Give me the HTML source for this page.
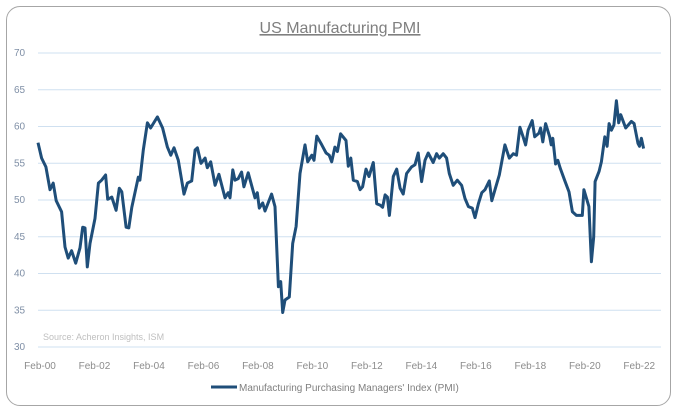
<!DOCTYPE html>
<html><head><meta charset="utf-8"><style>
html,body{margin:0;padding:0;background:#fff;width:679px;height:414px;overflow:hidden;font-family:"Liberation Sans",sans-serif}
#frame{position:absolute;left:6px;top:6px;width:665px;height:400px;border:1px solid #a6a6a6;border-radius:14px;box-sizing:border-box}
</style></head><body>
<div id="frame"></div>
<svg id="chart" width="679" height="414" style="position:absolute;left:0;top:0">
<text x="340" y="33" text-anchor="middle" font-size="16" fill="#7f7f7f" text-decoration="underline">US Manufacturing PMI</text>
<g id="grid"></g><g id="yt"></g><g id="xt"></g>
<text x="43" y="340" font-size="9" fill="#bfbfbf">Source: Acheron Insights, ISM</text>
<g>
<line x1="211" y1="387" x2="237" y2="387" stroke="#1f4e79" stroke-width="3"/>
<text x="239" y="391" font-size="10" fill="#7f7f7f">Manufacturing Purchasing Managers' Index (PMI)</text>
</g>
<path id="line" fill="none" stroke="#1f4e79" stroke-width="3" stroke-linejoin="round"/>
</svg>
<script>
const months=[0,1.6,3.5,5.3,6.7,8,10.4,11.9,13.3,14.8,16.6,18.5,19.7,20.7,21.7,22.9,25.1,26.6,28,29.8,30.7,32.5,34.4,35.8,36.9,38.8,40,41.3,44.2,44.9,46.4,48.2,49.6,52.6,54.9,57,58.5,59.9,61.8,64.3,65.8,67.7,69.2,70.2,71.8,73.6,74.6,76.1,78,79.7,82.4,83.8,84.6,85.8,86.8,88.2,89.7,90.7,92.6,95.6,96.6,97.5,99,100,102.9,104.4,105.9,106.9,107.8,108.8,110.7,112.2,113.7,115.4,117.6,118.8,120.6,121.6,122.8,125,126.9,128.3,129.4,130.8,131.9,133.3,135.7,136.7,137.8,138.9,140.7,141.9,143,144.5,145.8,147.7,149.2,150.7,151.8,152.9,153.9,154.8,156.5,158,159.5,160.9,162.4,164.6,166.1,167.5,169,170.5,171.9,174.1,175.6,176.8,178.5,180,181.2,182.9,184.7,186.6,188.1,189.6,191.3,192.5,194,195.5,196.9,198.8,199.9,201.3,203.2,205.7,207.6,209.4,210.8,212.3,213.7,214.8,215.9,217.7,218.8,220.7,221.4,222.4,223.6,225.4,226.1,226.8,228,229,230.1,232,233.9,235.4,237.2,239.8,240.5,242.7,243.8,244.8,245.4,247.2,248.2,249.7,250.7,251.6,252.6,253.7,254.8,255.8,256.7,258.9,261.4,262.6,264.3,265,265.8,266.8];
const pmi=[57.8,55.7,54.5,51.4,52.3,49.9,48.4,43.6,42.1,43.1,41.4,43.5,46.3,46.2,40.9,44.1,47.5,52.3,52.7,53.4,50.1,50.4,48.6,51.6,51.1,46.3,46.2,49,53.1,52.7,56.8,60.5,59.8,61.3,59.8,57.2,56.1,57.1,55.4,50.8,52.3,52.6,56.8,57.1,55,55.7,54.4,55.2,52,53.5,50.3,51,50.3,54.1,52.7,52.9,53.8,51.8,53.7,50.3,51,48.9,49.6,48.5,50.8,49.1,38.2,38.9,34.7,36.4,36.8,44.1,46.4,53.6,57.5,55.2,56.1,55.4,58.7,57.5,56.4,56.1,55.2,57.2,56.6,59,58.1,54.6,55.7,52.7,52.5,51.4,51.8,54.2,53.2,55.1,49.5,49.3,49,50.7,50.4,47.9,53.2,54.2,51.6,50.8,53.6,54.5,54.8,56.4,52.5,55.4,56.4,55.1,56.3,55.7,56.3,55.7,53.6,52,52.7,52,50.2,49.1,48.9,47.6,49.5,51,51.4,52.6,49.9,51.4,53.4,57.5,55.7,56.3,56.1,59.9,58.6,57.5,59.5,60.8,58.6,59.1,59.8,57.9,60.4,58.6,57.5,58.4,54.9,55.4,54.3,52.7,51.1,48.4,47.9,47.9,51.4,49.1,41.6,45,52.5,53.9,55.2,58.6,57.3,60.4,59.5,60.2,63.5,60.5,61.6,59.8,60.7,60.4,57.7,57.3,58.4,57];
const yTicks=[30,35,40,45,50,55,60,65,70];
const xLabels=["Feb-00","Feb-02","Feb-04","Feb-06","Feb-08","Feb-10","Feb-12","Feb-14","Feb-16","Feb-18","Feb-20","Feb-22"];
const X0=38,PXM=2.27,Y70=53,PXU=7.35;
function xs(m){return X0+m*PXM;}
function ys(v){return Y70+(70-v)*PXU;}
const NS="http://www.w3.org/2000/svg";
const grid=document.getElementById('grid'),yt=document.getElementById('yt'),xt=document.getElementById('xt');
yTicks.forEach(v=>{
  const l=document.createElementNS(NS,'line');
  l.setAttribute('x1',38);l.setAttribute('x2',661);l.setAttribute('y1',ys(v));l.setAttribute('y2',ys(v));
  l.setAttribute('stroke','#cfe0f0');l.setAttribute('stroke-width','1');
  
  
  grid.appendChild(l);
  const t=document.createElementNS(NS,'text');
  t.setAttribute('x',14);t.setAttribute('y',ys(v)+3);t.setAttribute('font-size','10');t.setAttribute('fill','#7f8fa6');
  t.textContent=v;
  
  
  yt.appendChild(t);
});
xLabels.forEach((s,i)=>{
  const t=document.createElementNS(NS,'text');
  t.setAttribute('x',xs(i*24)+2);t.setAttribute('y',369);t.setAttribute('font-size','10');t.setAttribute('fill','#8c8c8c');t.setAttribute('text-anchor','middle');
  t.textContent=s;
  
  
  xt.appendChild(t);
});
document.getElementById('line').setAttribute('d',months.map((m,i)=>(i?'L':'M')+xs(m).toFixed(1)+','+ys(pmi[i]).toFixed(1)).join(''));
</script>
</body></html>
